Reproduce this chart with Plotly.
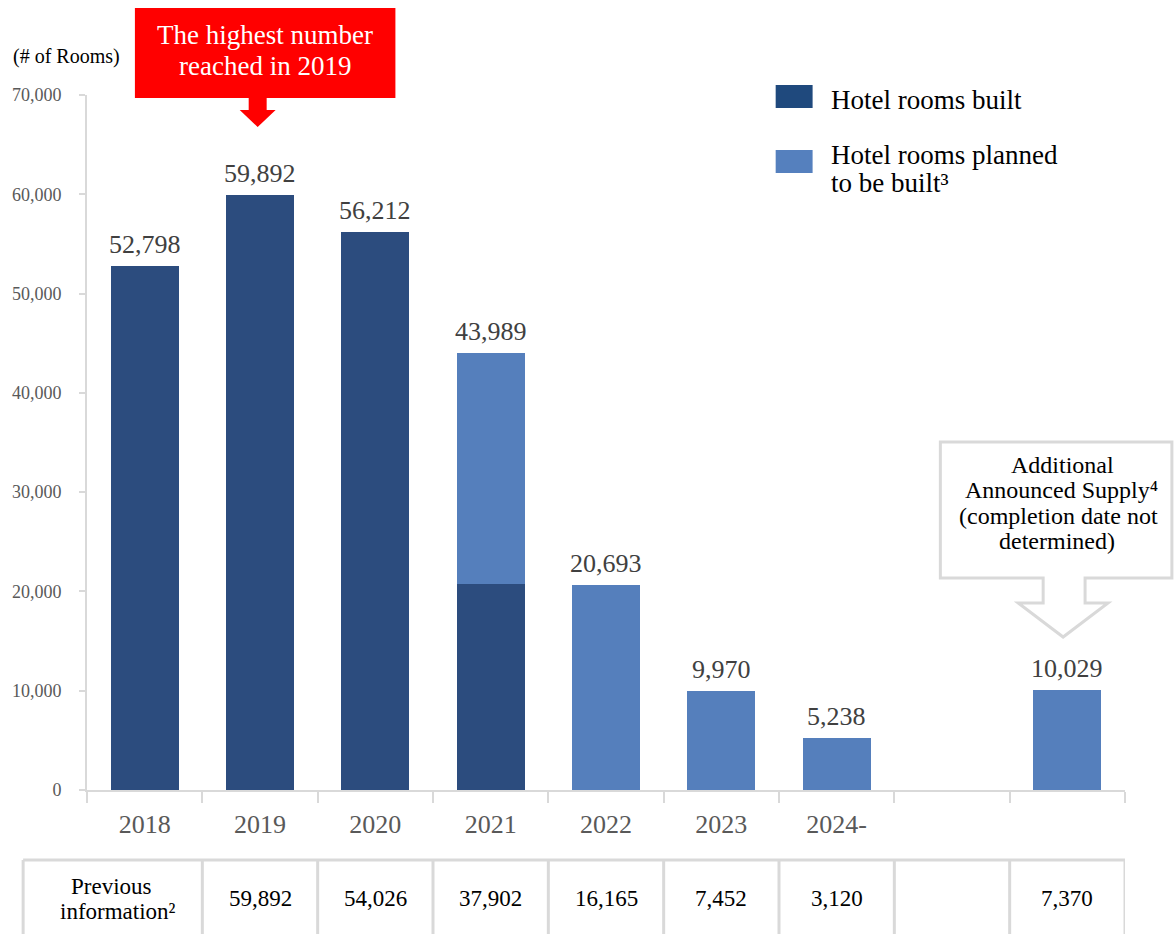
import plotly.graph_objects as go

# ---------------- data ----------------
categories = ["2018", "2019", "2020", "2021", "2022", "2023", "2024-", "blank", "additional"]
tick_text = ["2018", "2019", "2020", "2021", "2022", "2023", "2024-", "", ""]
rooms_built = [52798, 59892, 56212, 20700, None, None, None, None, None]
rooms_planned = [None, None, None, 23289, 20693, 9970, 5238, None, 10029]
totals = [52798, 59892, 56212, 43989, 20693, 9970, 5238, None, 10029]
previous_info = ["", "59,892", "54,026", "37,902", "16,165", "7,452", "3,120", "", "7,370"]
y_ticks = [0, 10000, 20000, 30000, 40000, 50000, 60000, 70000]

# ---------------- layout geometry (pixels) ----------------
W, H = 1174, 934
L, R, T, B = 85, 1125, 95, 790


def X(px):
    return (px - L) / (R - L)


def Y(py):
    return (B - py) / (B - T)


FONT = "Liberation Serif"
DARK = "#2C4C7E"
LIGHT = "#557FBC"
GRID = "#D9D9D9"

fig = go.Figure()
fig.add_trace(go.Bar(x=categories, y=rooms_built, marker=dict(color=DARK, line=dict(width=0)),
                     name="Hotel rooms built", showlegend=False, hoverinfo="skip"))
fig.add_trace(go.Bar(x=categories, y=rooms_planned, marker=dict(color=LIGHT, line=dict(width=0)),
                     name="Hotel rooms planned to be built", showlegend=False, hoverinfo="skip"))

shapes = []
annotations = []


def txt(px, py, text, size, color="#000000", xanchor="center"):
    annotations.append(dict(xref="paper", yref="paper", x=X(px), y=Y(py), text=text,
                            showarrow=False, xanchor=xanchor, yanchor="middle",
                            font=dict(family=FONT, size=size, color=color)))


# value labels above bars
for i, tot in enumerate(totals):
    if tot is not None:
        annotations.append(dict(xref="x", yref="y", x=i, y=tot, text=f"{tot:,}", showarrow=False,
                                xanchor="center", yanchor="bottom", yshift=5,
                                font=dict(family=FONT, size=26, color="#404040")))

# y-axis label
txt(64, 56, "(# of Rooms)", 20)

# red callout box + arrow
shapes.append(dict(type="rect", xref="paper", yref="paper", x0=X(133), x1=X(394), y0=Y(98), y1=Y(8),
                   fillcolor="#FF0000", line=dict(width=0), layer="above"))
arrow_pts = [(247, 97), (265, 97), (265, 110), (274, 110), (256, 127), (238, 110), (247, 110)]
path = "M " + " L ".join(f"{X(a):.5f},{Y(b):.5f}" for a, b in arrow_pts) + " Z"
shapes.append(dict(type="path", xref="paper", yref="paper", path=path,
                   fillcolor="#FF0000", line=dict(width=0), layer="above"))
txt(263, 35, "The highest number", 27, "#FFFFFF")
txt(263, 66, "reached in 2019", 27, "#FFFFFF")

# legend (drawn manually)
shapes.append(dict(type="rect", xref="paper", yref="paper", x0=X(775), x1=X(812), y0=Y(108), y1=Y(85),
                   fillcolor="#1F497D", line=dict(width=0)))
shapes.append(dict(type="rect", xref="paper", yref="paper", x0=X(775), x1=X(812), y0=Y(173), y1=Y(150),
                   fillcolor="#5580BE", line=dict(width=0)))
txt(828, 100, "Hotel rooms built", 27, xanchor="left")
txt(828, 155, "Hotel rooms planned", 27, xanchor="left")
txt(828, 183, "to be built³", 27, xanchor="left")

# grey callout for additional supply
call_pts = [(940, 442), (1172, 442), (1172, 578), (1085, 578), (1085, 603), (1108, 603),
            (1063, 637), (1018, 603), (1043, 603), (1043, 578), (940, 578)]
path = "M " + " L ".join(f"{X(a):.5f},{Y(b):.5f}" for a, b in call_pts) + " Z"
shapes.append(dict(type="path", xref="paper", yref="paper", path=path,
                   fillcolor="#FFFFFF", line=dict(color=GRID, width=3)))
txt(1062, 465, "Additional", 24)
txt(1061, 490, "Announced Supply⁴", 24)
txt(1058, 516, "(completion date not", 24)
txt(1057, 541, "determined)", 24)

# table below the chart
tbl_top, tbl_bot = Y(860), Y(960)
shapes.append(dict(type="line", xref="paper", yref="paper", x0=X(21), x1=1.0, y0=tbl_top, y1=tbl_top,
                   line=dict(color=GRID, width=3)))
shapes.append(dict(type="line", xref="paper", yref="paper", x0=X(21), x1=X(21), y0=tbl_top, y1=tbl_bot,
                   line=dict(color=GRID, width=3)))
for i in range(len(categories)):
    shapes.append(dict(type="line", xref="x", yref="paper", x0=i + 0.5, x1=i + 0.5, y0=tbl_top, y1=tbl_bot,
                       line=dict(color=GRID, width=3)))
txt(110, 886, "Previous", 23)
txt(116, 911, "information²", 23)
for i, val in enumerate(previous_info):
    if val:
        annotations.append(dict(xref="x", yref="paper", x=i, y=Y(898), text=val, showarrow=False,
                                xanchor="center", yanchor="middle",
                                font=dict(family=FONT, size=23, color="#000000")))

fig.update_layout(
    width=W, height=H, autosize=False,
    margin=dict(l=L, r=W - R, t=T, b=H - B),
    barmode="stack", bargap=0.41,
    plot_bgcolor="#FFFFFF", paper_bgcolor="#FFFFFF",
    shapes=shapes, annotations=annotations,
    showlegend=False, hovermode=False,
)
fig.update_xaxes(type="category", categoryorder="array", categoryarray=categories,
                 tickmode="array", tickvals=categories, ticktext=tick_text,
                 tickson="boundaries", ticks="outside", ticklen=11, tickwidth=2, tickcolor=GRID,
                 showline=True, linecolor=GRID, linewidth=2, showgrid=False,
                 range=[-0.5, len(categories) - 0.5],
                 tickfont=dict(family=FONT, size=26, color="#595959"), ticklabelstandoff=10)
fig.update_yaxes(range=[0, 70000], tickmode="array", tickvals=y_ticks, tickformat=",",
                 ticks="outside", ticklen=6, tickwidth=2, tickcolor=GRID,
                 showline=True, linecolor=GRID, linewidth=2, showgrid=False, zeroline=False,
                 tickfont=dict(family=FONT, size=18, color="#595959"), ticklabelstandoff=14)

fig.write_html("out.html", config={"displayModeBar": False},
               post_script="document.body.style.margin='0px';")
